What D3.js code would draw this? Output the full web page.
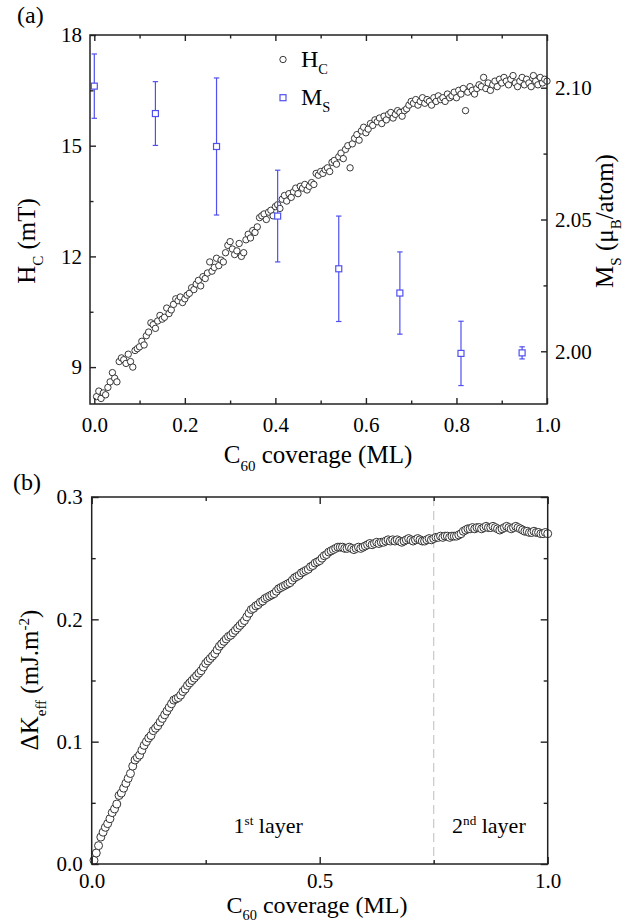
<!DOCTYPE html>
<html>
<head>
<meta charset="utf-8">
<script src="https://d3js.org/d3.v7.min.js"></script>
</head>
<body style="margin:0">
<svg id="chart" width="641" height="922" font-family="Liberation Serif"></svg>
<script>
// coverage steps shared by both scans (ML)
var cov = [
  0.005,0.01,0.015,0.02,0.025,0.03,0.035,0.04,0.045,0.05,
  0.055,0.06,0.065,0.07,0.075,0.08,0.085,0.09,0.095,0.1,
  0.105,0.11,0.115,0.12,0.125,0.13,0.135,0.14,0.145,0.15,
  0.155,0.16,0.165,0.17,0.175,0.18,0.185,0.19,0.195,0.2,
  0.205,0.21,0.215,0.22,0.225,0.23,0.235,0.24,0.245,0.25,
  0.255,0.26,0.265,0.27,0.275,0.28,0.285,0.29,0.295,0.3,
  0.305,0.31,0.315,0.32,0.325,0.33,0.335,0.34,0.345,0.35,
  0.355,0.36,0.365,0.37,0.375,0.38,0.385,0.39,0.395,0.4,
  0.405,0.41,0.415,0.42,0.425,0.43,0.435,0.44,0.445,0.45,
  0.455,0.46,0.465,0.47,0.475,0.48,0.485,0.49,0.495,0.5,
  0.505,0.51,0.515,0.52,0.525,0.53,0.535,0.54,0.545,0.55,
  0.555,0.56,0.565,0.57,0.575,0.58,0.585,0.59,0.595,0.6,
  0.605,0.61,0.615,0.62,0.625,0.63,0.635,0.64,0.645,0.65,
  0.655,0.66,0.665,0.67,0.675,0.68,0.685,0.69,0.695,0.7,
  0.705,0.71,0.715,0.72,0.725,0.73,0.735,0.74,0.745,0.75,
  0.755,0.76,0.765,0.77,0.775,0.78,0.785,0.79,0.795,0.8,
  0.805,0.81,0.815,0.82,0.825,0.83,0.835,0.84,0.845,0.85,
  0.855,0.86,0.865,0.87,0.875,0.88,0.885,0.89,0.895,0.9,
  0.905,0.91,0.915,0.92,0.925,0.93,0.935,0.94,0.945,0.95,
  0.955,0.96,0.965,0.97,0.975,0.98,0.985,0.99,0.995,1.0
];

// (a) coercive field, mT
var hc = [
  8.20,8.35,8.15,8.30,8.25,8.45,8.60,8.85,8.70,8.60,
  9.15,9.25,9.20,9.10,9.35,9.15,9.00,9.45,9.50,9.55,
  9.70,9.60,9.85,9.95,10.20,10.15,10.05,10.25,10.40,10.30,
  10.35,10.60,10.45,10.55,10.70,10.85,10.80,10.90,10.75,10.85,
  10.95,11.00,11.15,11.10,11.25,11.35,11.20,11.45,11.40,11.55,
  11.85,11.60,11.70,11.95,11.75,11.90,11.85,12.10,12.30,12.40,
  12.20,12.05,12.15,12.35,12.00,12.10,12.45,12.60,12.50,12.70,
  12.65,12.80,13.05,13.10,13.15,13.00,13.20,13.25,13.10,13.35,
  13.40,13.30,13.55,13.65,13.50,13.70,13.60,13.75,13.85,13.70,
  13.90,13.85,13.95,13.80,13.90,14.00,13.95,14.25,14.20,14.30,
  14.25,14.35,14.40,14.30,14.55,14.60,14.50,14.70,14.80,14.65,
  14.90,15.00,14.40,15.05,15.20,15.30,15.15,15.40,15.50,15.35,
  15.45,15.60,15.55,15.70,15.65,15.75,15.60,15.80,15.70,15.85,
  15.90,15.75,15.85,15.95,15.90,15.80,15.95,16.00,16.10,16.20,
  16.15,16.25,16.10,16.20,16.30,16.15,16.25,16.20,16.10,16.30,
  16.20,16.35,16.25,16.30,16.20,16.40,16.30,16.35,16.45,16.30,
  16.50,16.40,16.55,15.95,16.45,16.60,16.50,16.40,16.55,16.65,
  16.60,16.85,16.55,16.70,16.50,16.65,16.75,16.60,16.80,16.70,
  16.85,16.75,16.65,16.80,16.90,16.70,16.60,16.75,16.85,16.65,
  16.80,16.70,16.60,16.90,16.75,16.65,16.85,16.70,16.80,16.75
];

// (a) saturation magnetisation, muB/atom
var msX = [0, 0.135, 0.27, 0.405, 0.54, 0.675, 0.81, 0.945];
var msY = [2.1006, 2.0902, 2.0777, 2.0513, 2.0313, 2.0221, 1.9992, 1.9994];
var msErr = [0.0122, 0.0121, 0.026, 0.0174, 0.020, 0.0156, 0.0122, 0.0023];

// (b) anisotropy change, mJ/m2
var dk = [
  0.003,0.009,0.015,0.022,0.026,0.030,0.033,0.037,0.042,0.045,
  0.049,0.056,0.058,0.062,0.066,0.070,0.074,0.080,0.085,0.087,
  0.089,0.093,0.097,0.100,0.103,0.105,0.109,0.111,0.113,0.116,
  0.119,0.122,0.125,0.128,0.131,0.134,0.135,0.136,0.138,0.141,
  0.143,0.146,0.148,0.150,0.152,0.154,0.156,0.158,0.161,0.164,
  0.166,0.168,0.170,0.172,0.175,0.178,0.180,0.182,0.184,0.186,
  0.187,0.189,0.191,0.193,0.195,0.197,0.199,0.202,0.205,0.208,
  0.209,0.211,0.212,0.214,0.215,0.217,0.218,0.219,0.220,0.221,
  0.223,0.225,0.226,0.227,0.228,0.229,0.230,0.232,0.234,0.235,
  0.236,0.238,0.239,0.240,0.241,0.243,0.244,0.246,0.247,0.248,
  0.250,0.252,0.253,0.255,0.256,0.257,0.258,0.259,0.259,0.259,
  0.258,0.258,0.259,0.258,0.257,0.258,0.259,0.258,0.259,0.260,
  0.261,0.262,0.261,0.262,0.263,0.262,0.263,0.263,0.264,0.265,
  0.264,0.265,0.264,0.265,0.264,0.263,0.264,0.265,0.266,0.265,
  0.264,0.265,0.266,0.265,0.264,0.264,0.265,0.266,0.265,0.266,
  0.267,0.267,0.268,0.267,0.268,0.268,0.267,0.268,0.268,0.268,
  0.269,0.270,0.272,0.273,0.274,0.274,0.275,0.274,0.275,0.275,
  0.274,0.275,0.276,0.275,0.275,0.276,0.275,0.274,0.273,0.274,
  0.275,0.276,0.275,0.274,0.275,0.276,0.275,0.274,0.273,0.272,
  0.272,0.271,0.271,0.272,0.271,0.271,0.270,0.270,0.271,0.270
];

var xTicksA = [0, 0.2, 0.4, 0.6, 0.8, 1.0];
var xMinorA = [0.1, 0.3, 0.5, 0.7, 0.9];
var hcTicks = [9, 12, 15, 18];
var hcMinor = [10.5, 13.5, 16.5];
var msTicks = [2.00, 2.05, 2.10];
var msMinor = [2.025, 2.075];
var xTicksB = [0, 0.5, 1.0];
var xMinorB = [0.25, 0.75];
var dkTicks = [0, 0.1, 0.2, 0.3];
var dkMinor = [0.05, 0.15, 0.25];

var face = 'Liberation Serif';
var blue = '#5050f0';
var ink = '#222';
var svg = d3.select('#chart');

function ticks(make, pos, major, minor, majLen, minLen, fmt, pad) {
  var g = svg.append('g').attr('transform', 'translate(' + pos + ')');
  g.append('g').call(make().tickValues(minor).tickSize(-minLen).tickSizeOuter(0).tickFormat(''));
  g.append('g').call(make().tickValues(major).tickSize(-majLen).tickSizeOuter(0)
    .tickPadding(pad || 0).tickFormat(fmt || ''));
  g.selectAll('.domain').remove();
  g.selectAll('g').attr('font-family', face).attr('font-size', 21);
  g.selectAll('line').attr('stroke', ink).attr('stroke-width', 1.4);
  g.selectAll('text').attr('fill', '#000').attr('font-family', face).attr('font-size', 21);
  return g;
}

function rich(parent, parts, size) {
  var t = parent.append('text').attr('fill', '#000')
    .attr('font-family', face).attr('font-size', size);
  var shift = 0;
  parts.forEach(function (p) {
    var s = p[1] === 'sub' ? size * 0.3 : p[1] === 'sup' ? -size * 0.38 : 0;
    t.append('tspan').text(p[0]).attr('dy', s - shift)
      .attr('font-family', face)
      .attr('font-size', p[1] ? size * 0.6 : size);
    shift = s;
  });
  return t;
}

function place(x, y, rot) {
  return svg.append('g').attr('transform', 'translate(' + x + ',' + y + ')' + (rot ? ' rotate(' + rot + ')' : ''));
}

// ---------- panel (a)
var A = { l: 90, r: 547, t: 35, b: 404 };
var xa = d3.scaleLinear().domain([-0.0095, 1]).range([A.l, A.r]);
var yHc = d3.scaleLinear().domain([8, 18]).range([A.b, A.t]);
var yMs = d3.scaleLinear().domain([1.98, 2.12]).range([A.b, A.t]);

svg.append('g').selectAll('circle').data(cov).join('circle')
  .attr('cx', function (d) { return xa(d); })
  .attr('cy', function (d, i) { return yHc(hc[i]); })
  .attr('r', 3.2).attr('fill', '#fff').attr('stroke', ink).attr('stroke-width', 0.9);

var ms = svg.append('g');
msX.forEach(function (x, i) {
  var cx = xa(x);
  ms.append('line').attr('x1', cx).attr('x2', cx)
    .attr('y1', yMs(msY[i] - msErr[i])).attr('y2', yMs(msY[i] + msErr[i]))
    .attr('stroke', blue).attr('stroke-width', 1.2);
  [msY[i] - msErr[i], msY[i] + msErr[i]].forEach(function (v) {
    ms.append('line').attr('x1', cx - 2.7).attr('x2', cx + 2.7)
      .attr('y1', yMs(v)).attr('y2', yMs(v)).attr('stroke', blue).attr('stroke-width', 1.2);
  });
  ms.append('rect').attr('x', cx - 3).attr('y', yMs(msY[i]) - 3).attr('width', 6).attr('height', 6)
    .attr('fill', '#fff').attr('stroke', blue).attr('stroke-width', 1.2);
});

svg.append('rect').attr('x', A.l).attr('y', A.t).attr('width', A.r - A.l).attr('height', A.b - A.t)
  .attr('fill', 'none').attr('stroke', ink).attr('stroke-width', 1.5);

ticks(function () { return d3.axisBottom(xa); }, '0,' + A.b, xTicksA, xMinorA, 6, 3.5, d3.format('.1f'), 13);
ticks(function () { return d3.axisTop(xa); }, '0,' + A.t, xTicksA, xMinorA, 6, 3.5);
ticks(function () { return d3.axisLeft(yHc); }, A.l + ',0', hcTicks, hcMinor, 6, 3.5, d3.format('d'), 8);
ticks(function () { return d3.axisRight(yMs); }, A.r + ',0', msTicks, msMinor, 6, 3.5, d3.format('.2f'), 8);

// legend
svg.append('circle').attr('cx', 283).attr('cy', 59.5).attr('r', 3.2)
  .attr('fill', '#fff').attr('stroke', ink).attr('stroke-width', 0.9);
svg.append('rect').attr('x', 280).attr('y', 94.7).attr('width', 6).attr('height', 6)
  .attr('fill', '#fff').attr('stroke', blue).attr('stroke-width', 1.2);
rich(place(301, 67), [['H', ''], ['C', 'sub']], 24);
rich(place(301, 105), [['M', ''], ['S', 'sub']], 24);

rich(place(318, 463), [['C', ''], ['60', 'sub'], [' coverage (ML)', '']], 25).attr('text-anchor', 'middle');
rich(place(35, 241, -90), [['H', ''], ['C', 'sub'], [' (mT)', '']], 25).attr('text-anchor', 'middle');
rich(place(613, 221, -90), [['M', ''], ['S', 'sub'], [' (\u03bc', ''], ['B', 'sub'], ['/atom)', '']], 25)
  .attr('text-anchor', 'middle');
rich(place(17, 23), [['(a)', '']], 24);

// ---------- panel (b)
var B = { l: 91.7, r: 547.7, t: 497, b: 864 };
var xb = d3.scaleLinear().domain([0, 1]).range([B.l, B.r]);
var yK = d3.scaleLinear().domain([0, 0.3]).range([B.b, B.t]);

svg.append('line').attr('x1', xb(0.75)).attr('x2', xb(0.75)).attr('y1', B.t).attr('y2', B.b)
  .attr('stroke', '#c8c8c8').attr('stroke-width', 1.2).attr('stroke-dasharray', '9,5');

svg.append('g').selectAll('circle').data(cov).join('circle')
  .attr('cx', function (d) { return xb(d); })
  .attr('cy', function (d, i) { return yK(dk[i]); })
  .attr('r', 4).attr('fill', '#fff').attr('stroke', '#333').attr('stroke-width', 1);

svg.append('rect').attr('x', B.l).attr('y', B.t).attr('width', B.r - B.l).attr('height', B.b - B.t)
  .attr('fill', 'none').attr('stroke', ink).attr('stroke-width', 1.5);

ticks(function () { return d3.axisBottom(xb); }, '0,' + B.b, xTicksB, xMinorB, 7, 4, d3.format('.1f'), 9);
ticks(function () { return d3.axisTop(xb); }, '0,' + B.t, xTicksB, xMinorB, 7, 4);
ticks(function () { return d3.axisLeft(yK); }, B.l + ',0', dkTicks, dkMinor, 7, 4, d3.format('.1f'), 9);
ticks(function () { return d3.axisRight(yK); }, B.r + ',0', dkTicks, dkMinor, 7, 4);

rich(place(xb(0.387), 833), [['1', ''], ['st', 'sup'], [' layer', '']], 22).attr('text-anchor', 'middle');
rich(place(xb(0.871), 833), [['2', ''], ['nd', 'sup'], [' layer', '']], 22).attr('text-anchor', 'middle');

rich(place(317, 913), [['C', ''], ['60', 'sub'], [' coverage (ML)', '']], 24).attr('text-anchor', 'middle');
rich(place(38, 680, -90), [['\u0394K', ''], ['eff', 'sub'], [' (mJ.m', ''], ['-2', 'sup'], [')', '']], 25)
  .attr('text-anchor', 'middle');
rich(place(13, 490), [['(b)', '']], 24);
</script>
</body>
</html>
